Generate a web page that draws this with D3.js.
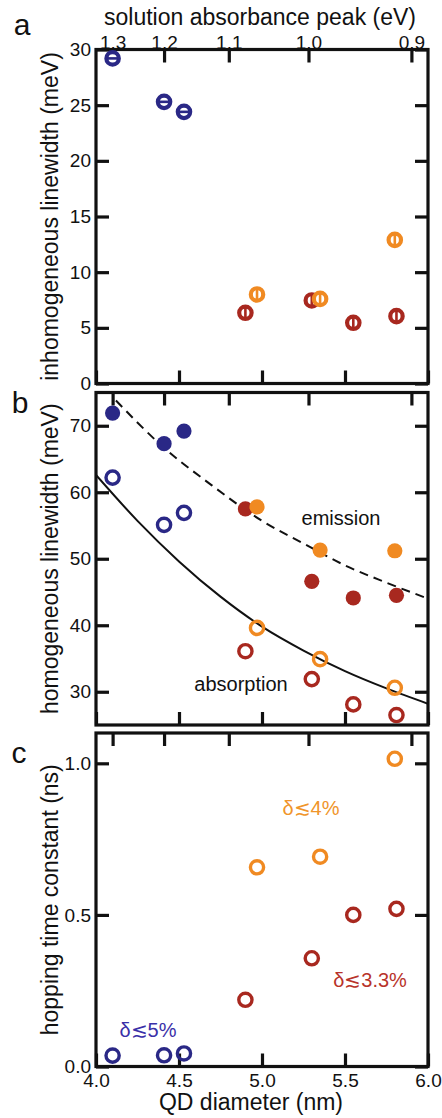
<!DOCTYPE html>
<html><head><meta charset="utf-8">
<script src="https://cdn.jsdelivr.net/npm/d3@7"></script>
<style>
body{margin:0;background:#fff;}
text{font-family:"Liberation Sans",Arial,sans-serif;fill:#111;}
</style></head>
<body><svg id="chart" width="442" height="1118"></svg>
<script>
// ---------- data ----------
const xTicks = [4.0, 4.5, 5.0, 5.5, 6.0];
const evTicks = [1.3, 1.2, 1.1, 1.0, 0.9];
const evDiameter = [4.10, 4.41, 4.80, 5.28, 5.90];

const blueD = [4.10, 4.41, 4.53];
const redD = [4.90, 5.30, 5.55, 5.81];
const orangeD = [4.97, 5.35, 5.80];

// panel a: inhomogeneous linewidth (meV)
const inhomTicks = [0, 5, 10, 15, 20, 25, 30];
const inhomBlue = [29.2, 25.3, 24.4];
const inhomRed = [6.35, 7.46, 5.45, 6.05];
const inhomOrange = [8.0, 7.6, 12.9];

// panel b: homogeneous linewidth (meV)
const homTicks = [30, 40, 50, 60, 70];
const emBlue = [71.9, 67.3, 69.2];
const emRed = [57.5, 46.6, 44.1, 44.5];
const emOrange = [57.8, 51.3, 51.2];
const absBlue = [62.2, 55.1, 56.9];
const absRed = [36.1, 31.9, 28.1, 26.5];
const absOrange = [39.6, 34.9, 30.6];
const emFitD = [4.12, 4.4, 4.7, 5.0, 5.25, 5.5, 5.75, 6.0];
const emFit = [73.8, 66.9, 61.0, 55.7, 52.3, 49.0, 46.4, 44.0];
const absFitD = [4.0, 4.25, 4.5, 4.75, 5.0, 5.25, 5.5, 5.75, 6.0];
const absFit = [62.6, 55.7, 49.6, 44.3, 39.8, 36.2, 33.1, 30.5, 28.2];

// panel c: hopping time constant (ns)
const hopTicks = [0.0, 0.5, 1.0];
const hopBlue = [0.036, 0.037, 0.043];
const hopRed = [0.22, 0.357, 0.50, 0.52];
const hopOrange = [0.657, 0.692, 1.015];

const BLUE = "#2a2886", RED = "#a8281f", ORANGE = "#f08a22";

// ---------- layout ----------
const svg = d3.select("#chart");
svg.append("rect").attr("width", 442).attr("height", 1118).attr("fill", "#fff");
const L = 96, R = 428;
const x = d3.scaleLinear().domain([4.0, 6.0]).range([L, R]);
const ev = d3.scaleLinear().domain(evTicks).range(evDiameter.map(x));

const panels = [
  {top: 49.5, bot: 383.5, dom: [0, 30], ticks: inhomTicks, fmt: d3.format("d"), letter: "a", title: "inhomogeneous linewidth (meV)"},
  {top: 392.5, bot: 725, dom: [25, 75], ticks: homTicks, fmt: d3.format("d"), letter: "b", title: "homogeneous linewidth (meV)"},
  {top: 733, bot: 1066.5, dom: [0, 1.1], ticks: hopTicks, fmt: d3.format(".1f"), letter: "c", title: "hopping time constant (ns)"}
];
panels.forEach(p => { p.y = d3.scaleLinear().domain(p.dom).range([p.bot, p.top]); });

function styleAxis(g) {
  g.select(".domain").remove();
  g.selectAll(".tick line").attr("stroke", "#111").attr("stroke-width", 3.2);
  g.selectAll(".tick text").attr("font-size", 19).attr("fill", "#111")
    .attr("font-family", "Liberation Sans, Arial, sans-serif");
}

panels.forEach((p, i) => {
  const g = svg.append("g");
  g.append("g").attr("transform", `translate(${L},0)`)
    .call(d3.axisLeft(p.y).tickValues(p.ticks).tickFormat(p.fmt).tickSize(-13).tickPadding(5))
    .call(styleAxis);
  g.append("g").attr("transform", `translate(${R},0)`)
    .call(d3.axisRight(p.y).tickValues(p.ticks).tickFormat("").tickSize(-13))
    .call(styleAxis);
  g.append("g").attr("transform", `translate(0,${p.bot})`)
    .call(d3.axisBottom(x).tickValues(xTicks).tickFormat(i === 2 ? d3.format(".1f") : "").tickSize(-13).tickPadding(7))
    .call(styleAxis);
  g.append("g").attr("transform", `translate(0,${p.top})`)
    .call(d3.axisTop(ev).tickValues(evTicks).tickFormat(i === 0 ? d3.format(".1f") : "").tickSize(-13).tickPadding(1))
    .call(styleAxis);
  g.append("rect").attr("x", L).attr("y", p.top).attr("width", R - L).attr("height", p.bot - p.top)
    .attr("fill", "none").attr("stroke", "#111").attr("stroke-width", 3.2);
  g.append("text").attr("transform", `translate(58,${(p.top + p.bot) / 2}) rotate(-90)`)
    .attr("text-anchor", "middle").attr("font-size", 23).text(p.title);
});

[["a", 22, 35], ["b", 20, 413], ["c", 19, 763]].forEach(([t, lx, ly]) =>
  svg.append("text").attr("x", lx).attr("y", ly).attr("text-anchor", "middle").attr("font-size", 30).text(t));

svg.append("text").attr("x", 260).attr("y", 25).attr("text-anchor", "middle").attr("font-size", 23)
  .text("solution absorbance peak (eV)");
svg.append("text").attr("x", 251).attr("y", 1110).attr("text-anchor", "middle").attr("font-size", 23)
  .text("QD diameter (nm)");

// ---------- panel a markers ----------
const pa = panels[0];
function inhomMarkers(ds, vs, col, horiz) {
  const g = svg.append("g");
  ds.forEach((d, k) => {
    const cx = x(d), cy = pa.y(vs[k]);
    g.append("circle").attr("cx", cx).attr("cy", cy).attr("r", 6.2)
      .attr("fill", "#fff").attr("stroke", col).attr("stroke-width", 4.2);
    if (horiz) g.append("line").attr("x1", cx - 5).attr("x2", cx + 5).attr("y1", cy).attr("y2", cy)
      .attr("stroke", col).attr("stroke-width", 2.6);
    else g.append("line").attr("x1", cx).attr("x2", cx).attr("y1", cy - 5).attr("y2", cy + 5)
      .attr("stroke", col).attr("stroke-width", 2.6);
  });
}
inhomMarkers(blueD, inhomBlue, BLUE, true);
inhomMarkers(redD, inhomRed, RED, false);
inhomMarkers(orangeD, inhomOrange, ORANGE, false);

// ---------- panel b ----------
const pb = panels[1];
svg.append("clipPath").attr("id", "clipb").append("rect")
  .attr("x", L).attr("y", pb.top).attr("width", R - L).attr("height", pb.bot - pb.top);
const lineGen = d3.line().curve(d3.curveMonotoneX).x(d => x(d[0])).y(d => pb.y(d[1]));
svg.append("path").attr("clip-path", "url(#clipb)")
  .attr("d", lineGen(emFitD.map((d, k) => [d, emFit[k]])))
  .attr("fill", "none").attr("stroke", "#111").attr("stroke-width", 2).attr("stroke-dasharray", "9,6");
svg.append("path").attr("clip-path", "url(#clipb)")
  .attr("d", lineGen(absFitD.map((d, k) => [d, absFit[k]])))
  .attr("fill", "none").attr("stroke", "#111").attr("stroke-width", 2);

function filled(ds, vs, col, sc) {
  svg.append("g").selectAll("circle").data(ds).join("circle")
    .attr("cx", d => x(d)).attr("cy", (d, k) => sc(vs[k])).attr("r", 7.6).attr("fill", col);
}
function open(ds, vs, col, sc) {
  svg.append("g").selectAll("circle").data(ds).join("circle")
    .attr("cx", d => x(d)).attr("cy", (d, k) => sc(vs[k])).attr("r", 6.6)
    .attr("fill", "none").attr("stroke", col).attr("stroke-width", 3.4);
}
filled(redD, emRed, RED, pb.y);
filled(orangeD, emOrange, ORANGE, pb.y);
filled(blueD, emBlue, BLUE, pb.y);
open(blueD, absBlue, BLUE, pb.y);
open(redD, absRed, RED, pb.y);
open(orangeD, absOrange, ORANGE, pb.y);

svg.append("text").attr("x", 341).attr("y", 525).attr("text-anchor", "middle").attr("font-size", 20).text("emission");
svg.append("text").attr("x", 241).attr("y", 691).attr("text-anchor", "middle").attr("font-size", 20).text("absorption");

// ---------- panel c ----------
const pc = panels[2];
open(blueD, hopBlue, BLUE, pc.y);
open(redD, hopRed, RED, pc.y);
open(orangeD, hopOrange, ORANGE, pc.y);

svg.append("text").attr("x", 311).attr("y", 815).attr("text-anchor", "middle").attr("font-size", 20)
  .style("fill", "#f0952a").text("δ≲4%");
svg.append("text").attr("x", 370).attr("y", 987).attr("text-anchor", "middle").attr("font-size", 20)
  .style("fill", "#b8332a").text("δ≲3.3%");
svg.append("text").attr("x", 148).attr("y", 1037).attr("text-anchor", "middle").attr("font-size", 20)
  .style("fill", "#3a30a8").text("δ≲5%");
</script></body></html>
